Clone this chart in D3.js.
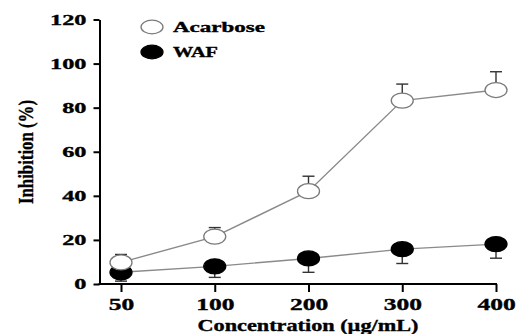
<!DOCTYPE html>
<html>
<head>
<meta charset="utf-8">
<script src="https://cdn.jsdelivr.net/npm/d3@7"></script>
<style>
  html, body { margin: 0; padding: 0; background: #fff; }
  svg { display: block; }
  text { font-family: "Liberation Serif", "Times New Roman", serif; font-weight: bold; fill: #000; stroke: #000; stroke-width: 0.35px; }
</style>
</head>
<body>
<svg id="chart" width="524" height="334"></svg>
<script>
// Concentrations tested (µg/mL), drawn as evenly spaced categories
const concentrations = ["50", "100", "200", "300", "400"];
// Mean inhibition (%) and SD for each treatment
const acarboseMean = [9.8, 21.5, 42.1, 83.2, 88.0];
const acarboseErr  = [3.6, 4.1, 6.8, 7.5, 8.3];
const wafMean = [5.3, 8.0, 11.6, 15.8, 18.1];
const wafErr  = [4.0, 5.0, 6.3, 6.5, 6.4];
const yTicks = [0, 20, 40, 60, 80, 100, 120];
const seriesNames = ["Acarbose", "WAF"];

const svg = d3.select("#chart");

const x = d3.scalePoint().domain(concentrations).range([121, 496]);
const y = d3.scaleLinear().domain([0, 120]).range([284, 19.5]);
const axisX = 99.5;

// widen glyphs horizontally to the chart's stretched lettering
function stretch(sel, factor) {
  sel.each(function () {
    const w = this.getComputedTextLength();
    d3.select(this).attr("textLength", w * factor).attr("lengthAdjust", "spacingAndGlyphs");
  });
}

// Y axis
const gy = svg.append("g")
  .attr("transform", `translate(${axisX},0)`)
  .call(d3.axisLeft(y).tickValues(yTicks).tickSize(6).tickSizeOuter(0).tickPadding(7));
gy.select(".domain").attr("stroke", "#000").attr("stroke-width", 2);
gy.selectAll(".tick line").attr("stroke", "#000").attr("stroke-width", 2);
gy.selectAll(".tick text")
  .style("font-size", "15px")
  .style("font-family", "'Liberation Serif', serif")
  .style("font-weight", "bold")
  .attr("fill", "#000")
  .call(stretch, 1.62);

// X axis
const gx = svg.append("g")
  .attr("transform", `translate(0,${y(0)})`)
  .call(d3.axisBottom(x).tickSize(8).tickSizeOuter(0));
gx.select(".domain").remove();
gx.append("line")
  .attr("x1", axisX - 1).attr("x2", x("400") + 1)
  .attr("y1", 0).attr("y2", 0)
  .attr("stroke", "#000").attr("stroke-width", 2);
gx.selectAll(".tick line").attr("stroke", "#000").attr("stroke-width", 2);
gx.selectAll(".tick text")
  .attr("y", 26).attr("dy", 0)
  .style("font-size", "17px")
  .style("font-family", "'Liberation Serif', serif")
  .style("font-weight", "bold")
  .attr("fill", "#000")
  .call(stretch, 1.5);

// Axis titles
svg.append("text")
  .attr("x", 308).attr("y", 331)
  .attr("text-anchor", "middle")
  .style("font-size", "16px")
  .attr("textLength", 221).attr("lengthAdjust", "spacingAndGlyphs")
  .text("Concentration (µg/mL)");

svg.append("text")
  .attr("transform", "translate(33,152) rotate(-90)")
  .attr("text-anchor", "middle")
  .style("font-size", "20px")
  .attr("textLength", 104).attr("lengthAdjust", "spacingAndGlyphs")
  .text("Inhibition (%)");

const line = d3.line().x((d, i) => x(concentrations[i])).y(d => y(d));

function drawSeries(means, errs, dir, filled) {
  const g = svg.append("g");
  g.append("path")
    .datum(means)
    .attr("d", line)
    .attr("fill", "none")
    .attr("stroke", "#8a8a8a")
    .attr("stroke-width", 1.4);
  const eb = g.selectAll(".err").data(means).join("g");
  eb.append("line")
    .attr("x1", (d, i) => x(concentrations[i]))
    .attr("x2", (d, i) => x(concentrations[i]))
    .attr("y1", d => y(d))
    .attr("y2", (d, i) => y(d + dir * errs[i]))
    .attr("stroke", "#333").attr("stroke-width", 1.4);
  eb.append("line")
    .attr("x1", (d, i) => x(concentrations[i]) - 6)
    .attr("x2", (d, i) => x(concentrations[i]) + 6)
    .attr("y1", (d, i) => y(d + dir * errs[i]))
    .attr("y2", (d, i) => y(d + dir * errs[i]))
    .attr("stroke", "#333").attr("stroke-width", 1.4);
  g.selectAll("ellipse").data(means).join("ellipse")
    .attr("cx", (d, i) => x(concentrations[i]))
    .attr("cy", d => y(d))
    .attr("rx", 11).attr("ry", 7.5)
    .attr("fill", filled ? "#000" : "#fff")
    .attr("stroke", filled ? "#000" : "#7a7a7a")
    .attr("stroke-width", 1.3);
}

drawSeries(wafMean, wafErr, -1, true);
drawSeries(acarboseMean, acarboseErr, 1, false);

// Legend
const legend = svg.append("g");
const legendY = [27, 52];
seriesNames.forEach((name, i) => {
  legend.append("ellipse")
    .attr("cx", 152).attr("cy", legendY[i])
    .attr("rx", 11).attr("ry", 6.8)
    .attr("fill", i === 0 ? "#fff" : "#000")
    .attr("stroke", i === 0 ? "#7a7a7a" : "#000")
    .attr("stroke-width", 1.3);
  legend.append("text")
    .attr("x", 173).attr("y", legendY[i] + 5)
    .style("font-size", "14px")
    .attr("textLength", i === 0 ? 92 : 45).attr("lengthAdjust", "spacingAndGlyphs")
    .text(name);
});
</script>
</body>
</html>
